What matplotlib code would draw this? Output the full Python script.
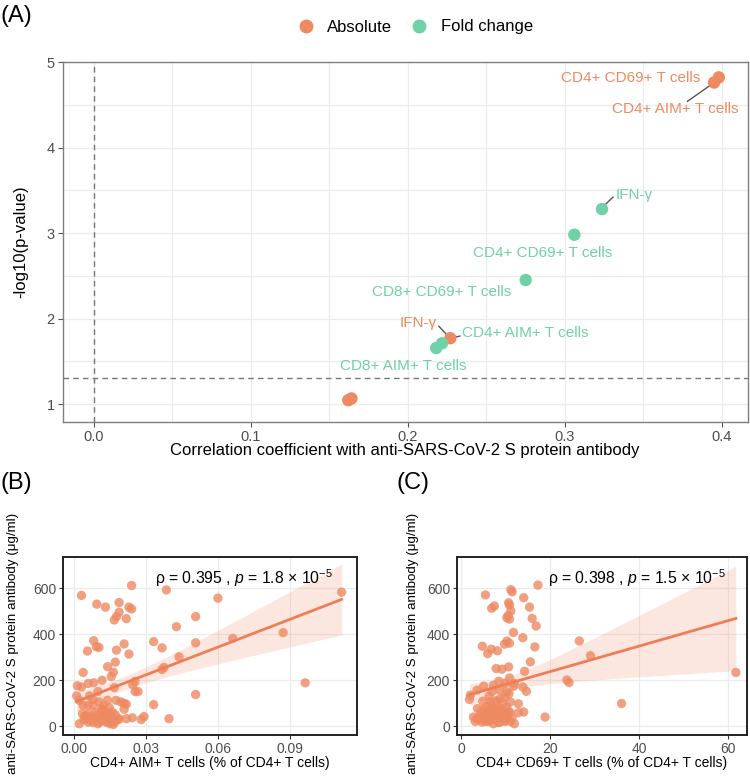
import numpy as np
import matplotlib.pyplot as plt

plt.rcParams['font.family'] = ['Liberation Sans', 'DejaVu Sans']
plt.rcParams['mathtext.fontset'] = 'custom'
plt.rcParams['mathtext.rm'] = 'Liberation Sans'
plt.rcParams['mathtext.it'] = 'Liberation Sans:italic'

ORANGE = '#EE8A62'
GREEN = '#6FD1A6'
LINE = '#EE7E55'

# ---- panel A data ----
abs_r = [0.398, 0.395, 0.227, 0.162, 0.164]
abs_p = [4.82, 4.76, 1.77, 1.045, 1.065]
fold_r = [0.3236, 0.306, 0.275, 0.2217, 0.218]
fold_p = [3.28, 2.98, 2.45, 1.71, 1.655]

# ---- panel B data: CD4+ AIM+ (%), antibody ----
b_x = [0.0031, 0.0095, 0.0131, 0.0188, 0.0188, 0.0240, 0.0229, 0.0240, 0.0177, 0.0168,
       0.0218, 0.0082, 0.0093, 0.0104, 0.0056, 0.0209, 0.0177, 0.0229, 0.0172, 0.0140,
       0.0164, 0.0038, 0.0155, 0.0117, 0.0082, 0.0059, 0.0014, 0.0031, 0.0168, 0.0100,
       0.0254, 0.0245, 0.0255, 0.0267, 0.0011, 0.0022, 0.0065, 0.0079, 0.0038, 0.0059,
       0.0079, 0.0104, 0.0140, 0.0175, 0.0195, 0.0209, 0.0218, 0.0123, 0.0147, 0.0120,
       0.0160, 0.0209, 0.0035, 0.0045, 0.0063, 0.0079, 0.0095, 0.0112, 0.0127, 0.0134,
       0.0150, 0.0172, 0.0188, 0.0218, 0.0243, 0.0022, 0.0059, 0.0086, 0.0106, 0.0134,
       0.0150, 0.0164, 0.0065, 0.0041, 0.0144, 0.0169, 0.0185, 0.0127, 0.0280, 0.0292,
       0.0332, 0.0332, 0.0367, 0.0396, 0.0385, 0.0427, 0.0438, 0.0367, 0.0375, 0.0507,
       0.0507, 0.0507, 0.0600, 0.0662, 0.0872, 0.0964, 0.1116,
       # points hidden in the dense lower-left cluster
       0.0050, 0.0070, 0.0090, 0.0110, 0.0125, 0.0135, 0.0145, 0.0155, 0.0100, 0.0080,
       0.0120, 0.0140, 0.0060, 0.0160, 0.0115]
b_y = [568, 530, 517, 537, 495, 611, 517, 509, 476, 461,
       467, 371, 345, 342, 326, 357, 330, 313, 278, 258,
       234, 233, 215, 199, 188, 185, 175, 170, 167, 150,
       194, 180, 150, 150, 131, 112, 131, 116, 90, 90,
       90, 105, 112, 112, 105, 98, 95, 90, 80, 71,
       61, 73, 54, 42, 39, 39, 47, 39, 54, 32,
       42, 49, 32, 32, 36, 10, 17, 25, 17, 17,
       10, 7, 28, 28, 29, 17, 28, 25, 28, 41,
       93, 367, 340, 32, 592, 432, 301, 246, 255, 476,
       362, 137, 556, 381, 406, 188, 582,
       45, 30, 60, 25, 65, 45, 55, 35, 10, 15,
       40, 20, 55, 25, 75]

# ---- panel C data: CD4+ CD69+ (%), antibody ----
c_x = [17.3, 11.2, 11.5, 5.5, 14.1, 10.7, 10.9, 7.5, 6.9, 15.4,
       11.2, 10.6, 10.3, 16.0, 16.9, 10.9, 11.8, 13.9, 10.3, 10.9,
       9.8, 4.8, 6.8, 8.2, 6.0, 16.6, 15.6, 7.9, 9.2, 10.7,
       14.3, 10.9, 11.8, 9.9, 8.5, 7.3, 5.1, 3.6, 2.1, 1.9,
       14.7, 13.9, 12.0, 10.3, 8.7, 7.0, 4.9, 6.6, 8.8, 10.8,
       11.1, 8.1, 12.9, 3.7, 5.1, 6.2, 7.5, 9.2, 10.3, 10.7,
       8.5, 6.6, 2.8, 3.6, 4.3, 5.5, 7.3, 8.8, 9.9, 11.5,
       4.7, 6.2, 7.3, 8.7, 9.9, 12.0, 11.1, 14.1, 12.9, 18.9,
       8.1, 9.6, 5.8, 26.6, 29.1, 23.8, 24.3, 36.1, 61.8,
       # points hidden in the dense lower-left cluster
       4.0, 5.0, 5.5, 6.0, 6.5, 7.0, 7.5, 8.0, 8.5, 9.0,
       9.5, 10.0, 6.8, 7.8, 8.4, 9.4, 10.5, 5.8, 4.4, 6.3,
       9.8, 11.0, 3.2]
c_y = [613, 593, 584, 570, 558, 536, 526, 522, 512, 517,
       500, 480, 471, 468, 435, 465, 407, 384, 369, 360,
       356, 347, 334, 327, 315, 344, 279, 250, 247, 257,
       238, 209, 173, 185, 195, 177, 174, 156, 134, 116,
       151, 170, 185, 148, 156, 151, 108, 105, 119, 141,
       105, 105, 97, 76, 73, 68, 78, 76, 83, 61,
       54, 47, 39, 32, 39, 32, 32, 35, 39, 35,
       17, 20, 10, 17, 20, 10, 20, 61, 58, 39,
       68, 61, 61, 370, 306, 200, 189, 98, 233,
       30, 50, 20, 40, 25, 55, 45, 30, 15, 50,
       35, 25, 90, 110, 70, 95, 50, 85, 60, 130,
       125, 60, 20]

W, H = 750, 783
fig = plt.figure(figsize=(W / 100, H / 100), dpi=100)


def box(l, t, r, b):
    return [l / W, 1 - b / H, (r - l) / W, (b - t) / H]


def fx(x):
    return x / W


def fy(y):
    return 1 - y / H


# ================= panel A =================
ax = fig.add_axes(box(63, 62, 748, 422))
ax.set_xlim(-0.0197, 0.4166)
ax.set_ylim(0.79, 5.0)
ax.set_xticks([0, 0.1, 0.2, 0.3, 0.4])
ax.set_xticklabels(['0.0', '0.1', '0.2', '0.3', '0.4'])
ax.set_yticks([1, 2, 3, 4, 5])
ax.set_xticks(np.arange(0.05, 0.4, 0.1), minor=True)
ax.set_yticks(np.arange(1.5, 5, 1), minor=True)
ax.grid(True, which='major', color='#EBEBEB', lw=0.9)
ax.grid(True, which='minor', color='#EBEBEB', lw=0.9)
ax.tick_params(which='minor', length=0)
ax.tick_params(which='major', length=3.5, pad=2.5, color='#555555', labelsize=10.5,
               labelcolor='#4D4D4D', width=0.8)
for s in ax.spines.values():
    s.set_color('#7F7F7F')
    s.set_linewidth(1.0)
ax.set_axisbelow(True)
ax.axvline(0, color='#777777', ls=(0, (4, 3)), lw=1.0)
ax.axhline(1.30103, color='#777777', ls=(0, (4, 3)), lw=1.0)
ax.scatter(abs_r, abs_p, s=80, color=ORANGE, edgecolor='none', zorder=3)
ax.scatter(fold_r, fold_p, s=80, color=GREEN, edgecolor='none', zorder=3)

seg = '#555555'
ax.plot([0.378, 0.392], [4.54, 4.72], color=seg, lw=1)
ax.plot([0.3255, 0.3306], [3.33, 3.42], color=seg, lw=1)
ax.plot([0.2197, 0.2248], [1.91, 1.81], color=seg, lw=1)
ax.plot([0.2248, 0.2331], [1.76, 1.795], color=seg, lw=1)

fs = 11
ax.text(0.342, 4.81, 'CD4+ CD69+ T cells', color=ORANGE, fontsize=fs, ha='center', va='center')
ax.text(0.370, 4.45, 'CD4+ AIM+ T cells', color=ORANGE, fontsize=fs, ha='center', va='center')
ax.text(0.332, 3.44, 'IFN-γ', color=GREEN, fontsize=fs, ha='left', va='center')
ax.text(0.286, 2.77, 'CD4+ CD69+ T cells', color=GREEN, fontsize=fs, ha='center', va='center')
ax.text(0.2217, 2.31, 'CD8+ CD69+ T cells', color=GREEN, fontsize=fs, ha='center', va='center')
ax.text(0.2064, 1.95, 'IFN-γ', color=ORANGE, fontsize=fs, ha='center', va='center')
ax.text(0.2344, 1.83, 'CD4+ AIM+ T cells', color=GREEN, fontsize=fs, ha='left', va='center')
ax.text(0.1968, 1.44, 'CD8+ AIM+ T cells', color=GREEN, fontsize=fs, ha='center', va='center')

fig.text(fx(21), fy(242), '-log10(p-value)', rotation=90, ha='center', va='center', fontsize=12)
fig.text(fx(405), fy(451), 'Correlation coefficient with anti-SARS-CoV-2 S protein antibody',
         ha='center', va='center', fontsize=12)
fig.text(fx(0), fy(16), '(A)', fontsize=17, ha='left', va='center')

# legend
h1 = plt.Line2D([], [], ls='', marker='o', ms=9, color=ORANGE)
h2 = plt.Line2D([], [], ls='', marker='o', ms=9, color=GREEN)
fig.legend([h1, h2], ['Absolute', 'Fold change'], loc='center', ncol=2, frameon=False,
           bbox_to_anchor=(fx(411), fy(27)), fontsize=12, handletextpad=0.3, columnspacing=0.6)


# ================= panels B, C =================
def corr_panel(rect, x, y, xlim, xticks, xticklabels, txt, txt_x):
    a = fig.add_axes(box(*rect))
    x = np.array(x, float)
    y = np.array(y, float)
    n = len(x)
    slope, icpt = np.polyfit(x, y, 1)
    xs = np.linspace(x.min(), x.max(), 80)
    yh = icpt + slope * xs
    resid = y - (icpt + slope * x)
    s = np.sqrt(np.sum(resid ** 2) / (n - 2))
    se = s * np.sqrt(1 / n + (xs - x.mean()) ** 2 / np.sum((x - x.mean()) ** 2))
    tq = 1.981
    a.fill_between(xs, yh - tq * se, yh + tq * se, color=ORANGE, alpha=0.2, lw=0, zorder=1)
    a.scatter(x, y, s=45, color=ORANGE, alpha=0.8, edgecolor='none', zorder=2)
    a.plot(xs, yh, color=LINE, lw=2.0, zorder=3)
    a.set_xlim(*xlim)
    a.set_ylim(-39, 735)
    a.set_xticks(xticks)
    a.set_xticklabels(xticklabels)
    a.set_yticks([0, 200, 400, 600])
    a.grid(True, color='#EBEBEB', lw=0.9)
    a.set_axisbelow(True)
    a.tick_params(length=3, pad=2, color='#333333', labelsize=10, labelcolor='#4D4D4D', width=0.8)
    for sp in a.spines.values():
        sp.set_color('#222222')
        sp.set_linewidth(1.4)
    a.text(fx(txt_x), fy(578), txt, transform=fig.transFigure, ha='center', va='center', fontsize=11.3)
    return a


axB = corr_panel((63, 557, 357, 735), b_x, b_y, (-0.0046, 0.118),
                 [0, 0.03, 0.06, 0.09], ['0.00', '0.03', '0.06', '0.09'],
                 'ρ = 0.395 , $\\mathit{p}$ = 1.8 × 10$^{-5}$', 244)
axC = corr_panel((457, 557, 747, 735), c_x, c_y, (-0.9, 64.3),
                 [0, 20, 40, 60], ['0', '20', '40', '60'],
                 'ρ = 0.398 , $\\mathit{p}$ = 1.5 × 10$^{-5}$', 637)

fig.text(fx(210), fy(763), 'CD4+ AIM+ T cells (% of CD4+ T cells)', ha='center', va='center', fontsize=10)
fig.text(fx(602), fy(763), 'CD4+ CD69+ T cells (% of CD4+ T cells)', ha='center', va='center', fontsize=10)
ylab = 'anti-SARS-CoV-2 S protein antibody (μg/ml)'
fig.text(fx(13), fy(643), ylab, rotation=90, ha='center', va='center', fontsize=9.6)
fig.text(fx(413), fy(643), ylab, rotation=90, ha='center', va='center', fontsize=9.6)
fig.text(fx(0), fy(483), '(B)', fontsize=17, ha='left', va='center')
fig.text(fx(397), fy(483), '(C)', fontsize=17, ha='left', va='center')

fig.savefig('out.png', dpi=100)
